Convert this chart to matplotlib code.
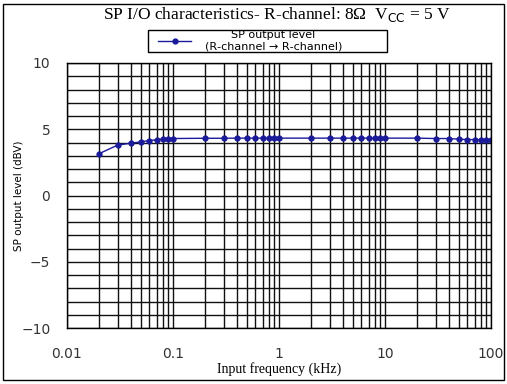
import matplotlib.pyplot as plt
import numpy as np
from matplotlib.ticker import FixedLocator, NullFormatter, MultipleLocator
from matplotlib.patches import Rectangle

# frecuencias (kHz) y nivel de salida (dBV)
frecuencia = [0.02, 0.03, 0.04, 0.05, 0.06, 0.07, 0.08, 0.09, 0.1,
              0.2, 0.3, 0.4, 0.5, 0.6, 0.7, 0.8, 0.9, 1,
              2, 3, 4, 5, 6, 7, 8, 9, 10,
              20, 30, 40, 50, 60, 70, 80, 90, 100]
nivel = [3.15, 3.8, 3.95, 4.05, 4.15, 4.2, 4.25, 4.28, 4.3,
         4.32, 4.32, 4.33, 4.33, 4.33, 4.33, 4.33, 4.33, 4.33,
         4.33, 4.33, 4.33, 4.33, 4.33, 4.33, 4.33, 4.33, 4.33,
         4.33, 4.3, 4.3, 4.25, 4.22, 4.22, 4.2, 4.2, 4.22]

fig = plt.figure(figsize=(5.07, 3.84), dpi=100)
ax = fig.add_axes([67/507, 1-328/384, (491-67)/507, (328-63)/384])

ax.plot(frecuencia, nivel, color='#1a1a9a', marker='o', markersize=3.5,
        linewidth=1, label='SP output level\n(R\u2010channel \u2192 R\u2010channel)')

ax.set_xscale('log')
ax.set_xlim(0.01, 100)
ax.set_ylim(-10, 10)

menores = [m * 10.0**d for d in range(-2, 2) for m in range(2, 10)]
ax.xaxis.set_minor_locator(FixedLocator(menores))
ax.xaxis.set_minor_formatter(NullFormatter())
ax.set_xticks([0.01, 0.1, 1, 10, 100])
ax.set_xticklabels(['0.01', '0.1', '1', '10', '100'])
ax.yaxis.set_major_locator(MultipleLocator(5))
ax.yaxis.set_minor_locator(MultipleLocator(1))

ax.grid(True, which='both', color='#111111', linewidth=1)
ax.tick_params(which='both', length=0, labelsize=10, labelcolor='#333333')
ax.tick_params(axis='x', pad=14)
ax.tick_params(axis='y', pad=12)
for s in ax.spines.values():
    s.set_linewidth(1)

ax.set_xlabel('Input frequency (kHz)', family='Liberation Serif', fontsize=10)
ax.xaxis.set_label_coords(0.5, -0.128)
ax.set_ylabel('SP output level (dBV)', fontsize=7.5)
ax.yaxis.set_label_coords(-0.102, 0.5)

fig.text(277/507, 0.963, 'SP I/O characteristics\u2010 R\u2010channel: 8\u03a9  V$_{\\rm CC}$ = 5 V',
         ha='center', va='center', family='Liberation Serif', fontsize=12.5)

# leyenda sin marco, el recuadro se dibuja aparte
leg = ax.legend(loc='center', bbox_to_anchor=(0.4316, 1.083), fontsize=8,
                frameon=False, handlelength=3, borderpad=0, labelspacing=0,
                handletextpad=1.2, borderaxespad=0)
for t in leg.get_texts():
    t.set_multialignment('center')

fig.patches.append(Rectangle((148/507, 1-52/384), 239/507, 22/384, transform=fig.transFigure,
                             fill=False, edgecolor='black', linewidth=1))

# marco exterior
fig.patches.append(Rectangle((3/507, 4/384), 501/507, 376/384, transform=fig.transFigure,
                             fill=False, edgecolor='black', linewidth=1))

plt.savefig('out.png')
